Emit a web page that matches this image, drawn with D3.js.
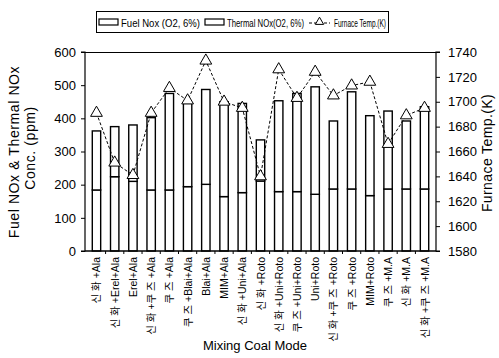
<!DOCTYPE html>
<html>
<head>
<meta charset="utf-8">
<script src="https://cdn.jsdelivr.net/npm/d3@7"></script>
<style>
  body { margin: 0; background: #fff; }
  svg text { font-family: "Liberation Sans", Arial, sans-serif; fill: #000; }
  .kr { font-family: "Liberation Sans", "Noto Sans CJK KR", sans-serif; }
</style>
</head>
<body>
<div id="chart"></div>
<script>
// mixing modes (x categories)
var modes = ["신 화 +Ala", "신 화 +Erel+Ala", "Erel+Ala", "신 화 +쿠 즈 +Ala", "쿠 즈 +Ala",
  "쿠 즈 +Blai+Ala", "Blai+Ala", "MIM+Ala", "신 화 +Uni+Ala", "신 화 +Roto",
  "신 화 +Uni+Roto", "쿠 즈 +Uni+Roto", "Uni+Roto", "신 화 +쿠 즈 +Roto", "쿠 즈 +Roto",
  "MIM+Roto", "쿠 즈 +M.A", "신 화 +M.A", "신 화 +쿠 즈 +M.A"];
// ppm
var fuelNox = [184, 224, 210, 184, 184, 194, 201, 164, 176, 211, 179, 179, 171, 187, 187, 167, 187, 187, 187];
var thermalNox = [178, 151, 170, 218, 291, 251, 286, 286, 269, 124, 274, 296, 324, 205, 293, 241, 235, 205, 248];
// K
var furnaceTemp = [1691, 1651, 1641, 1691, 1711, 1701, 1733, 1700, 1695, 1640, 1726, 1703, 1724, 1705, 1713, 1716, 1666, 1689, 1695];
var leftTicks = [0, 100, 200, 300, 400, 500, 600];
var rightTicks = [1580, 1600, 1620, 1640, 1660, 1680, 1700, 1720, 1740];

var W = 499, H = 358;
var m = {top: 52, right: 63, bottom: 107, left: 85};

var svg = d3.select("#chart").append("svg").attr("width", W).attr("height", H);

var x = d3.scaleBand().domain(modes).range([m.left, W - m.right]).paddingInner(0.54).paddingOuter(0.4);
var y = d3.scaleLinear().domain([0, 600]).range([H - m.bottom, m.top]);
var y2 = d3.scaleLinear().domain([1580, 1740]).range([H - m.bottom, m.top]);

var data = modes.map(function(d, i) {
  return {mode: d, fuel: fuelNox[i], thermal: thermalNox[i], temp: furnaceTemp[i]};
});

// frame top line
svg.append("line").attr("x1", m.left).attr("x2", W - m.right)
  .attr("y1", m.top + 0.5).attr("y2", m.top + 0.5).attr("stroke", "#000").attr("stroke-width", 1.2);

// bars: fuel on bottom, thermal stacked above
var g = svg.append("g");
g.selectAll("rect.fuel").data(data).enter().append("rect")
  .attr("x", function(d) { return x(d.mode); })
  .attr("width", x.bandwidth())
  .attr("y", function(d) { return y(d.fuel); })
  .attr("height", function(d) { return y(0) - y(d.fuel); })
  .attr("fill", "#fff").attr("stroke", "#000").attr("stroke-width", 1.4);
g.selectAll("rect.thermal").data(data).enter().append("rect")
  .attr("x", function(d) { return x(d.mode); })
  .attr("width", x.bandwidth())
  .attr("y", function(d) { return y(d.fuel + d.thermal); })
  .attr("height", function(d) { return y(d.fuel) - y(d.fuel + d.thermal); })
  .attr("fill", "#fff").attr("stroke", "#000").attr("stroke-width", 1.4);

// temperature line
var cx = function(d) { return x(d.mode) + x.bandwidth() / 2; };
svg.append("path").datum(data)
  .attr("d", d3.line().x(cx).y(function(d) { return y2(d.temp); }))
  .attr("fill", "none").attr("stroke", "#000").attr("stroke-width", 1).attr("stroke-dasharray", "3,2");
svg.selectAll("path.tri").data(data).enter().append("path")
  .attr("d", d3.symbol().type(d3.symbolTriangle).size(60))
  .attr("transform", function(d) { return "translate(" + cx(d) + "," + y2(d.temp) + ")"; })
  .attr("fill", "#fff").attr("stroke", "#000").attr("stroke-width", 1);

// axes
var axL = svg.append("g").attr("transform", "translate(" + m.left + ",0)")
  .call(d3.axisLeft(y).tickValues(leftTicks).tickSize(4).tickPadding(5));
var axR = svg.append("g").attr("transform", "translate(" + (W - m.right) + ",0)")
  .call(d3.axisRight(y2).tickValues(rightTicks).tickFormat(d3.format("d")).tickSize(4).tickPadding(8));
[axL, axR].forEach(function(a) {
  a.select(".domain").attr("stroke-width", 1.2);
  a.selectAll("text").style("font-size", "13px").style("font-family", "Liberation Sans, Arial, sans-serif");
});
axL.selectAll(".domain").attr("d", "M-4," + y(600) + "H0V" + y(0) + "H-4");
axR.selectAll(".domain").attr("d", "M4," + y2(1740) + "H0V" + y2(1580) + "H4");

// x axis with small ticks at category boundaries
var axB = svg.append("g").attr("transform", "translate(0," + y(0) + ")");
axB.append("line").attr("x1", m.left).attr("x2", W - m.right).attr("stroke", "#000").attr("stroke-width", 1.4);
var step = x.step();
axB.selectAll("line.tk").data(modes.slice(1)).enter().append("line")
  .attr("x1", function(d) { return x(d) - step * x.paddingInner() / 2; })
  .attr("x2", function(d) { return x(d) - step * x.paddingInner() / 2; })
  .attr("y1", 0).attr("y2", 3).attr("stroke", "#000");
axB.selectAll("text").data(modes).enter().append("text")
  .attr("class", "kr")
  .attr("transform", function(d) { return "translate(" + (x(d) + x.bandwidth() / 2 + 4) + ",6) rotate(-90)"; })
  .attr("text-anchor", "end")
  .style("font-size", "10.5px")
  .text(function(d) { return d; });

// axis titles
svg.append("text").attr("transform", "translate(19,152) rotate(-90)").attr("text-anchor", "middle")
  .style("font-size", "14px").style("letter-spacing", "0.6px").text("Fuel NOx & Thermal NOx");
svg.append("text").attr("transform", "translate(35,148) rotate(-90)").attr("text-anchor", "middle")
  .style("font-size", "14px").style("letter-spacing", "0.6px").text("Conc. (ppm)");
svg.append("text").attr("transform", "translate(492,153) rotate(-90)").attr("text-anchor", "middle")
  .style("font-size", "14px").style("letter-spacing", "0.4px").text("Furnace Temp.(K)");
svg.append("text").attr("x", 255).attr("y", 350).attr("text-anchor", "middle")
  .style("font-size", "13px").text("Mixing Coal Mode");

// legend
var leg = svg.append("g").attr("class", "leg");
leg.append("rect").attr("x", 96.5).attr("y", 11.5).attr("width", 292).attr("height", 21)
  .attr("fill", "#fff").attr("stroke", "#000").attr("stroke-width", 1);
var legItems = [
  {label: "Fuel Nox (O2, 6%)", x: 99, w: 79, kind: "bar"},
  {label: "Thermal NOx(O2, 6%)", x: 205, w: 77, kind: "bar"},
  {label: "Furnace Temp.(K)", x: 309, w: 52, kind: "line"}
];
legItems.forEach(function(d) {
  if (d.kind === "bar") {
    leg.append("rect").attr("x", d.x).attr("y", 19).attr("width", 19).attr("height", 6)
      .attr("fill", "#fff").attr("stroke", "#000").attr("stroke-width", 1.2);
  } else {
    leg.append("line").attr("x1", d.x).attr("x2", d.x + 21).attr("y1", 23).attr("y2", 23)
      .attr("stroke", "#000").attr("stroke-dasharray", "3,2");
    leg.append("path").attr("d", d3.symbol().type(d3.symbolTriangle).size(30))
      .attr("transform", "translate(" + (d.x + 10.5) + ",22)")
      .attr("fill", "#fff").attr("stroke", "#000");
  }
  leg.append("text").attr("x", d.x + (d.kind === "bar" ? 22 : 25)).attr("y", 26.5)
    .style("font-size", "11px")
    .attr("textLength", d.w).attr("lengthAdjust", "spacingAndGlyphs")
    .text(d.label);
});
</script>
</body>
</html>
